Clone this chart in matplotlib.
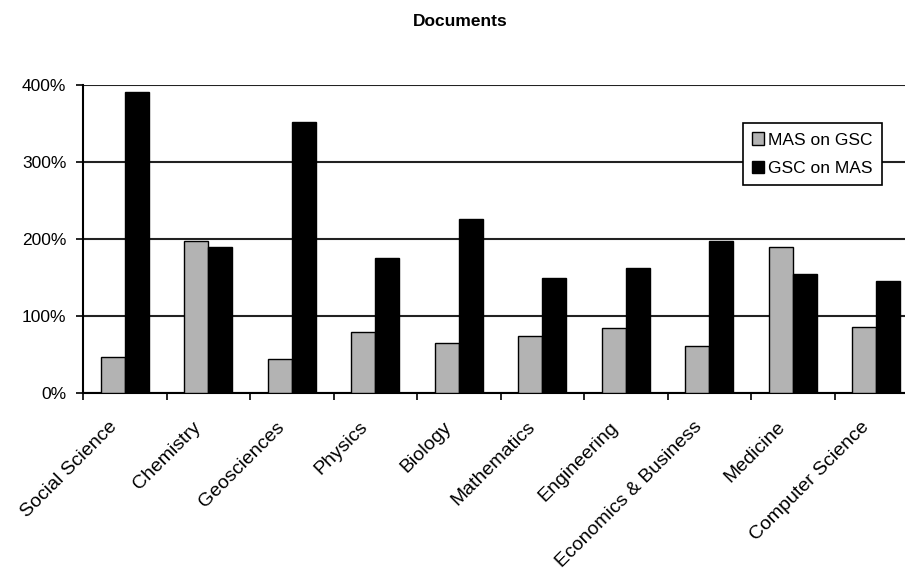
import matplotlib.pyplot as plt
import matplotlib.transforms as mtransforms
import numpy as np
from matplotlib.ticker import FuncFormatter

categories = ['Social Science', 'Chemistry', 'Geosciences', 'Physics', 'Biology',
              'Mathematics', 'Engineering', 'Economics & Business', 'Medicine',
              'Computer Science']
mas_on_gsc = [47, 197, 44, 79, 65, 74, 84, 61, 189, 86]
gsc_on_mas = [391, 189, 352, 175, 226, 150, 162, 198, 155, 145]
y_ticks = [0, 100, 200, 300, 400]

plt.rcParams['font.family'] = ['Liberation Sans', 'DejaVu Sans']

fig = plt.figure(figsize=(9.05, 5.77), dpi=100)
# axes runs a bit past the right edge, like the cropped original
ax = fig.add_axes([83 / 905, 184 / 577, 835 / 905, 308 / 577])

x = np.arange(len(categories))
w = 0.29
ax.bar(x - w / 2, mas_on_gsc, w, color='#b3b3b3', edgecolor='black', linewidth=1,
       label='MAS on GSC', zorder=3)
ax.bar(x + w / 2, gsc_on_mas, w, color='black', edgecolor='black', linewidth=1,
       label='GSC on MAS', zorder=3)

ax.set_xlim(-0.5, len(categories) - 0.5)
ax.set_ylim(0, 400)
ax.set_yticks(y_ticks)
ax.yaxis.set_major_formatter(FuncFormatter(lambda v, p: '%d%%' % v))
ax.grid(axis='y', color='#222222', linewidth=1.5, zorder=0)

ax.set_xticks(x)
ax.set_xticklabels(categories, rotation=45, ha='right', rotation_mode='anchor',
                   fontsize=14)
ax.set_xticks(np.arange(-0.5, len(categories)), minor=True)
ax.tick_params(axis='x', which='major', length=0, pad=14)
ax.tick_params(axis='x', which='minor', length=5, width=1.2, direction='out')
ax.tick_params(axis='y', length=5, width=1.2, labelsize=12.5, pad=7)

# nudge the slanted labels left/down a little
shift = mtransforms.ScaledTranslation(-0.16, -0.06, fig.dpi_scale_trans)
for lab in ax.get_xticklabels():
    lab.set_transform(lab.get_transform() + shift)

for s in ['top', 'right']:
    ax.spines[s].set_visible(False)
ax.spines['left'].set_linewidth(1.5)
ax.spines['bottom'].set_linewidth(1.5)

leg = ax.legend(loc='upper left', bbox_to_anchor=(0.79, 0.877), borderaxespad=0,
                fontsize=12.5, handlelength=0.7, handleheight=0.7, handletextpad=0.2,
                frameon=True, fancybox=False, edgecolor='black', framealpha=1,
                labelspacing=0.75, borderpad=0.55)
leg.get_frame().set_linewidth(1.2)

fig.text(460 / 905, 1 - 22 / 577, 'Documents', ha='center', va='center',
         fontsize=12.5, fontweight='bold')

fig.savefig('out.png', dpi=100)
